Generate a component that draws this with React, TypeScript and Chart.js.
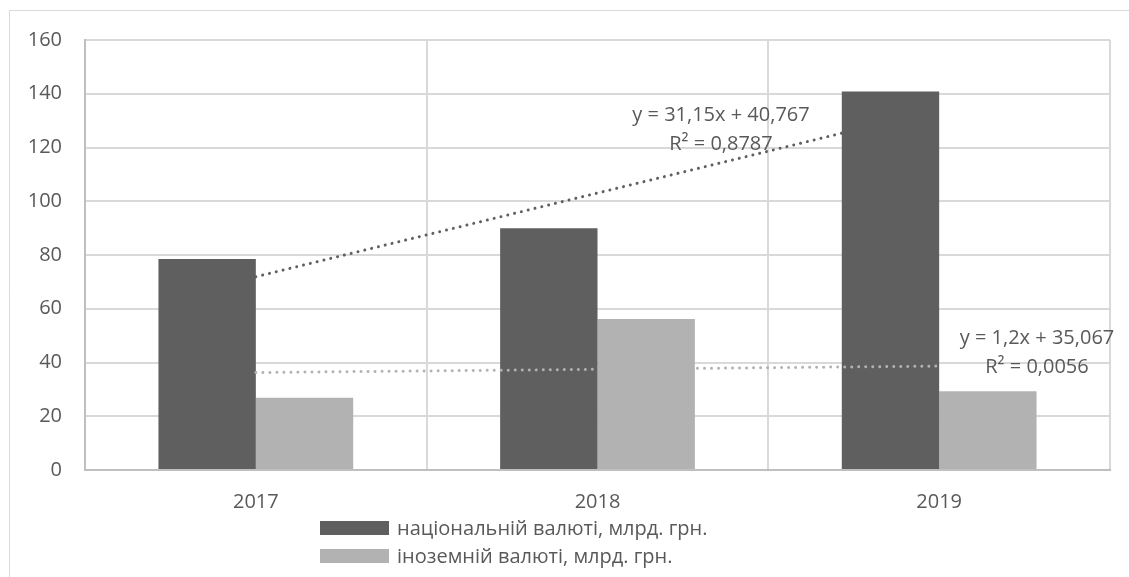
import React, { useEffect, useRef } from "react";
import { Chart, registerables } from "chart.js";

Chart.register(...registerables);

// Categories and series values (млрд. грн.)
const years = ["2017", "2018", "2019"];
const nationalCurrency = [78.5, 90.0, 140.8];
const foreignCurrency = [26.9, 56.2, 29.3];

const seriesLabels = ["національній валюті, млрд. грн.", "іноземній валюті, млрд. грн."];

// Linear trend coefficients (y = a·x + b, x = 1..n) and R²
const trendSlopes = [31.15, 1.2];
const trendIntercepts = [40.767, 35.067];
const trendLabels = [
  ["y = 31,15x + 40,767", "R² = 0,8787"],
  ["y = 1,2x + 35,067", "R² = 0,0056"],
];

const yTicks = [0, 20, 40, 60, 80, 100, 120, 140, 160];

const DARK = "#5f5f5f";
const LIGHT = "#b2b2b2";
const TEXT = "#595959";
const FONT = "'Open Sans', sans-serif";

const trendValues = (i: number) => years.map((_, k) => trendSlopes[i] * (k + 1) + trendIntercepts[i]);

const decorPlugin = {
  id: "decor",
  beforeDraw(chart: any) {
    const { ctx, width, height } = chart;
    ctx.save();
    ctx.fillStyle = "#ffffff";
    ctx.fillRect(0, 0, width, height);
    ctx.strokeStyle = "#d9d9d9";
    ctx.lineWidth = 1;
    ctx.beginPath();
    ctx.moveTo(9.5, height);
    ctx.lineTo(9.5, 10.5);
    ctx.lineTo(width, 10.5);
    ctx.stroke();
    ctx.restore();
  },
  afterDraw(chart: any) {
    const { ctx, chartArea } = chart;
    ctx.save();
    ctx.fillStyle = TEXT;
    ctx.font = `20px ${FONT}`;
    ctx.textAlign = "center";
    ctx.textBaseline = "middle";
    // trend equations
    const labelPos = [
      [chartArea.left + 636, chartArea.top + 75],
      [chartArea.left + 952, chartArea.top + 298],
    ];
    trendLabels.forEach((lines, i) => {
      const [x, y] = labelPos[i];
      ctx.fillText(lines[0], x, y);
      ctx.fillText(lines[1], x, y + 29);
    });
    // legend
    ctx.textAlign = "left";
    const colors = [DARK, LIGHT];
    seriesLabels.forEach((label, i) => {
      const top = 521 + i * 28;
      ctx.fillStyle = colors[i];
      ctx.fillRect(320, top, 69, 14);
      ctx.fillStyle = TEXT;
      ctx.fillText(label, 397, top + 8);
    });
    ctx.restore();
  },
};

export default function App() {
  const canvasRef = useRef<HTMLCanvasElement | null>(null);

  useEffect(() => {
    if (!canvasRef.current) return;
    const chart = new Chart(canvasRef.current, {
      type: "bar",
      data: {
        labels: years,
        datasets: [
          {
            type: "line",
            label: "trend-national",
            data: trendValues(0),
            borderColor: DARK,
            borderWidth: 3,
            borderDash: [0.01, 7],
            borderCapStyle: "round",
            pointRadius: 0,
            fill: false,
            order: 0,
          },
          {
            type: "line",
            label: "trend-foreign",
            data: trendValues(1),
            borderColor: LIGHT,
            borderWidth: 3,
            borderDash: [0.01, 7],
            borderCapStyle: "round",
            pointRadius: 0,
            fill: false,
            order: 0,
          },
          {
            label: seriesLabels[0],
            data: nationalCurrency,
            backgroundColor: DARK,
            categoryPercentage: 0.57,
            barPercentage: 1,
            order: 1,
          },
          {
            label: seriesLabels[1],
            data: foreignCurrency,
            backgroundColor: LIGHT,
            categoryPercentage: 0.57,
            barPercentage: 1,
            order: 1,
          },
        ] as any,
      },
      options: {
        animation: false,
        responsive: false,
        maintainAspectRatio: false,
        layout: { padding: { left: 10, top: 40, right: 19, bottom: 47 } },
        plugins: {
          legend: { display: false },
          tooltip: { enabled: false },
        },
        scales: {
          x: {
            grid: { color: "#d9d9d9", lineWidth: 2, drawTicks: false, offset: true },
            border: { color: "#bfbfbf", width: 2 },
            ticks: { color: TEXT, font: { family: FONT, size: 20 }, padding: 20 },
            afterFit: (s: any) => { s.height = 60; },
          },
          y: {
            min: 0,
            max: 160,
            afterBuildTicks: (s: any) => { s.ticks = yTicks.map((v) => ({ value: v })); },
            grid: { color: "#d9d9d9", lineWidth: 2, drawTicks: false },
            border: { color: "#bfbfbf", width: 2 },
            ticks: { color: TEXT, font: { family: FONT, size: 20 }, padding: 23 },
            afterFit: (s: any) => { s.width = 75; },
          },
        },
      },
      plugins: [decorPlugin],
    });
    return () => chart.destroy();
  }, []);

  return (
    <div style={{ position: "absolute", left: 0, top: 0, width: 1129, height: 577 }}>
      <canvas ref={canvasRef} width={1129} height={577} />
    </div>
  );
}
